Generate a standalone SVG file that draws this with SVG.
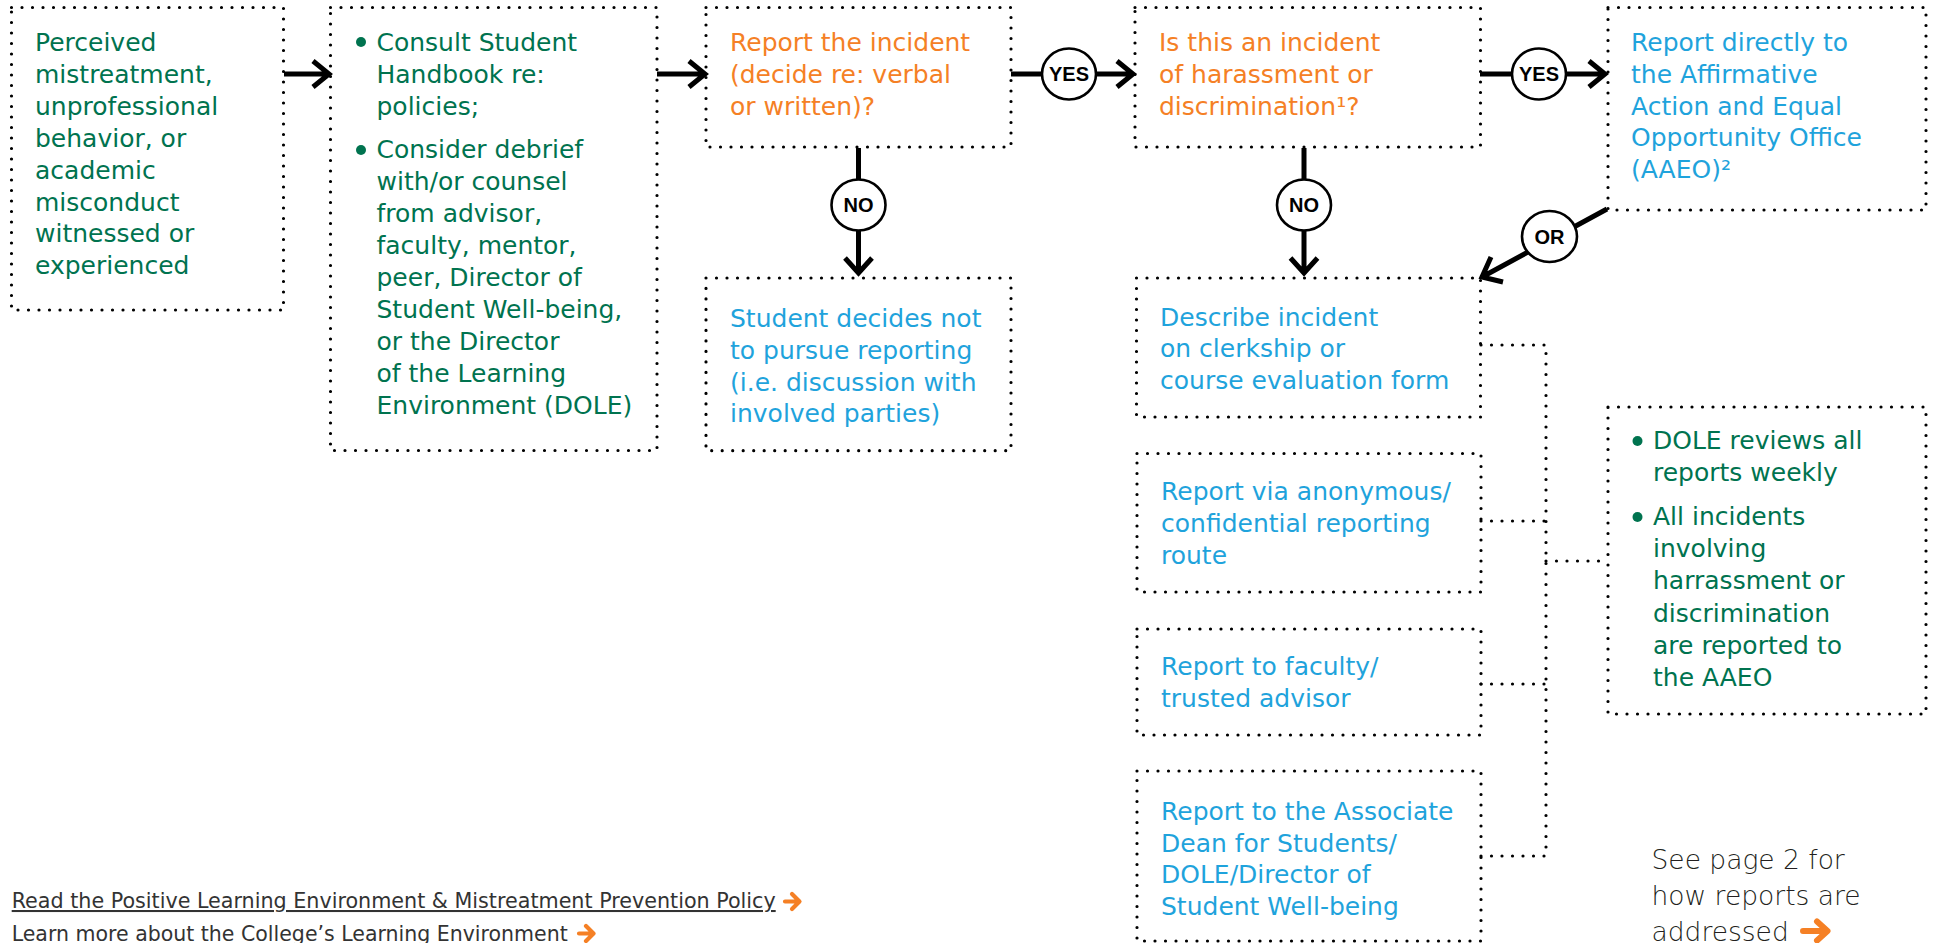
<svg xmlns="http://www.w3.org/2000/svg" width="1934" height="943" viewBox="0 0 1934 943">
<style>
.box{fill:none;stroke:#000;stroke-width:3.2;stroke-dasharray:0 10.5;stroke-linecap:round}
.dot{fill:none;stroke:#000;stroke-width:3.2;stroke-dasharray:0 10.5;stroke-linecap:round}
.t{font-family:"DejaVu Sans",sans-serif;font-size:25px}
.g{fill:#00734F}
.o{fill:#F58025}
.b{fill:#1FA3DC}
.con{fill:none;stroke:#000;stroke-width:5;stroke-linecap:butt;stroke-linejoin:miter}
.lbl{fill:#fff;stroke:#000;stroke-width:2.6}
.lt{font-family:"Liberation Sans",Arial,sans-serif;font-weight:bold;font-size:20px;text-anchor:middle;fill:#000}
.oa{fill:none;stroke:#F58025;stroke-linecap:round;stroke-linejoin:round}
.ft{font-family:"DejaVu Sans",sans-serif;font-size:20.5px;fill:#333}
.see{font-family:"DejaVu Sans",sans-serif;font-size:26.5px;font-weight:300;fill:#231F20}
</style>
<rect width="1934" height="943" fill="#fff"/>

<g id="connectors">
  <path class="con" d="M284 74H328M313 61L329 74L313 87"/>
  <path class="con" d="M657 74H704M689 61L705 74L689 87"/>
  <path class="con" d="M1011 74H1133M1117 61L1133 74L1117 87"/>
  <path class="con" d="M1480 74H1605M1589 61L1605 74L1589 87"/>
  <path class="con" d="M858.5 148V273M845 258L858.5 273L872 258"/>
  <path class="con" d="M1304 148V273M1290.5 258L1304 273L1317.5 258"/>
  <path class="con" d="M1607 209L1483 276.5M1491 257L1482 277L1503 282"/>
  <path class="dot" d="M1481 345H1546V856"/>
  <path class="dot" d="M1481 521H1546"/>
  <path class="dot" d="M1481 684H1546"/>
  <path class="dot" d="M1481 856H1546"/>
  <path class="dot" d="M1546 561H1608"/>
  <g id="lbl-yes1"><ellipse class="lbl" cx="1069" cy="74" rx="27" ry="25.5"/><text class="lt" x="1069" y="81">YES</text></g>
  <g id="lbl-yes2"><ellipse class="lbl" cx="1539" cy="74" rx="27" ry="25.5"/><text class="lt" x="1539" y="81">YES</text></g>
  <g id="lbl-no1"><ellipse class="lbl" cx="858.5" cy="205" rx="27" ry="25.5"/><text class="lt" x="858.5" y="212">NO</text></g>
  <g id="lbl-no2"><ellipse class="lbl" cx="1304" cy="205" rx="27" ry="25.5"/><text class="lt" x="1304" y="212">NO</text></g>
  <g id="lbl-or"><ellipse class="lbl" cx="1549.5" cy="236.5" rx="27.5" ry="25.5"/><text class="lt" x="1549.5" y="243.5">OR</text></g>
</g>

<g id="node-perceived">
  <rect class="box" x="11.5" y="7.5" width="272" height="302.5"/>
  <text class="t g">
    <tspan x="35" y="51">Perceived</tspan>
    <tspan x="35" y="83">mistreatment,</tspan>
    <tspan x="35" y="115">unprofessional</tspan>
    <tspan x="35" y="146.7">behavior, or</tspan>
    <tspan x="35" y="178.6">academic</tspan>
    <tspan x="35" y="210.5">misconduct</tspan>
    <tspan x="35" y="242.4">witnessed or</tspan>
    <tspan x="35" y="274.3">experienced</tspan>
  </text>
</g>

<g id="node-consult">
  <rect class="box" x="330.5" y="7.5" width="326.5" height="443"/>
  <circle cx="361" cy="42" r="5" fill="#00734F"/>
  <circle cx="361" cy="150" r="5" fill="#00734F"/>
  <text class="t g">
    <tspan x="376.5" y="51">Consult Student</tspan>
    <tspan x="376.5" y="83">Handbook re:</tspan>
    <tspan x="376.5" y="115">policies;</tspan>
    <tspan x="376.5" y="158.3">Consider debrief</tspan>
    <tspan x="376.5" y="190.2">with/or counsel</tspan>
    <tspan x="376.5" y="222.1">from advisor,</tspan>
    <tspan x="376.5" y="254">faculty, mentor,</tspan>
    <tspan x="376.5" y="285.9">peer, Director of</tspan>
    <tspan x="376.5" y="317.8">Student Well-being,</tspan>
    <tspan x="376.5" y="349.7">or the Director</tspan>
    <tspan x="376.5" y="381.6">of the Learning</tspan>
    <tspan x="376.5" y="413.5">Environment (DOLE)</tspan>
  </text>
</g>

<g id="node-report">
  <rect class="box" x="706" y="7.5" width="305" height="139.5"/>
  <text class="t o">
    <tspan x="730" y="51">Report the incident</tspan>
    <tspan x="730" y="83">(decide re: verbal</tspan>
    <tspan x="730" y="115">or written)?</tspan>
  </text>
</g>

<g id="node-harassment">
  <rect class="box" x="1135" y="7.5" width="345.5" height="139.5"/>
  <text class="t o">
    <tspan x="1159" y="51">Is this an incident</tspan>
    <tspan x="1159" y="83">of harassment or</tspan>
    <tspan x="1159" y="115">discrimination¹?</tspan>
  </text>
</g>

<g id="node-aaeo">
  <rect class="box" x="1608" y="7.5" width="318" height="202.5"/>
  <text class="t b">
    <tspan x="1631" y="50.7">Report directly to</tspan>
    <tspan x="1631" y="82.6">the Affirmative</tspan>
    <tspan x="1631" y="114.5">Action and Equal</tspan>
    <tspan x="1631" y="146.4">Opportunity Office</tspan>
    <tspan x="1631" y="178.3">(AAEO)²</tspan>
  </text>
</g>

<g id="node-notpursue">
  <rect class="box" x="706" y="278" width="305" height="172.7"/>
  <text class="t b">
    <tspan x="730" y="326.7">Student decides not</tspan>
    <tspan x="730" y="358.6">to pursue reporting</tspan>
    <tspan x="730" y="390.5">(i.e. discussion with</tspan>
    <tspan x="730" y="422.4">involved parties)</tspan>
  </text>
</g>

<g id="node-describe">
  <rect class="box" x="1136.5" y="278" width="344" height="139"/>
  <text class="t b">
    <tspan x="1160" y="325.5">Describe incident</tspan>
    <tspan x="1160" y="357.4">on clerkship or</tspan>
    <tspan x="1160" y="389.3">course evaluation form</tspan>
  </text>
</g>

<g id="node-anonymous">
  <rect class="box" x="1137" y="453.5" width="344" height="138.5"/>
  <text class="t b">
    <tspan x="1161" y="500.4">Report via anonymous/</tspan>
    <tspan x="1161" y="532.2">confidential reporting</tspan>
    <tspan x="1161" y="564">route</tspan>
  </text>
</g>

<g id="node-faculty">
  <rect class="box" x="1137" y="629" width="344" height="106"/>
  <text class="t b">
    <tspan x="1161" y="675">Report to faculty/</tspan>
    <tspan x="1161" y="707">trusted advisor</tspan>
  </text>
</g>

<g id="node-associate">
  <rect class="box" x="1137" y="771" width="344" height="170"/>
  <text class="t b">
    <tspan x="1161" y="819.7">Report to the Associate</tspan>
    <tspan x="1161" y="851.5">Dean for Students/</tspan>
    <tspan x="1161" y="883.3">DOLE/Director of</tspan>
    <tspan x="1161" y="915.1">Student Well-being</tspan>
  </text>
</g>

<g id="node-dole">
  <rect class="box" x="1608" y="407" width="318" height="307"/>
  <circle cx="1637.5" cy="441" r="5" fill="#00734F"/>
  <circle cx="1637.5" cy="517" r="5" fill="#00734F"/>
  <text class="t g">
    <tspan x="1653" y="448.5">DOLE reviews all</tspan>
    <tspan x="1653" y="481">reports weekly</tspan>
    <tspan x="1653" y="524.6">All incidents</tspan>
    <tspan x="1653" y="557">involving</tspan>
    <tspan x="1653" y="589.3">harrassment or</tspan>
    <tspan x="1653" y="621.6">discrimination</tspan>
    <tspan x="1653" y="653.5">are reported to</tspan>
    <tspan x="1653" y="685.7">the AAEO</tspan>
  </text>
</g>

<g id="note-seepage">
  <text class="see">
    <tspan x="1651.5" y="869.3">See page 2 for</tspan>
    <tspan x="1651.5" y="905">how reports are</tspan>
    <tspan x="1651.5" y="940.5">addressed</tspan>
  </text>
  <path class="oa" stroke-width="6" d="M1803 931H1826M1817 921.5L1827.5 931L1817 940.5"/>
</g>

<g id="footer-links">
  <text class="ft" x="11.7" y="908" textLength="764" lengthAdjust="spacingAndGlyphs" text-decoration="underline">Read the Positive Learning Environment &amp; Mistreatment Prevention Policy</text>
  <path class="oa" stroke-width="4.2" d="M785 901.5H798M792 894L799.5 901.5L792 909"/>
  <text class="ft" x="11.7" y="940.5" textLength="556" lengthAdjust="spacingAndGlyphs">Learn more about the College’s Learning Environment</text>
  <path class="oa" stroke-width="4.2" d="M579 933.5H592M586 926L593.5 933.5L586 941"/>
</g>
</svg>
